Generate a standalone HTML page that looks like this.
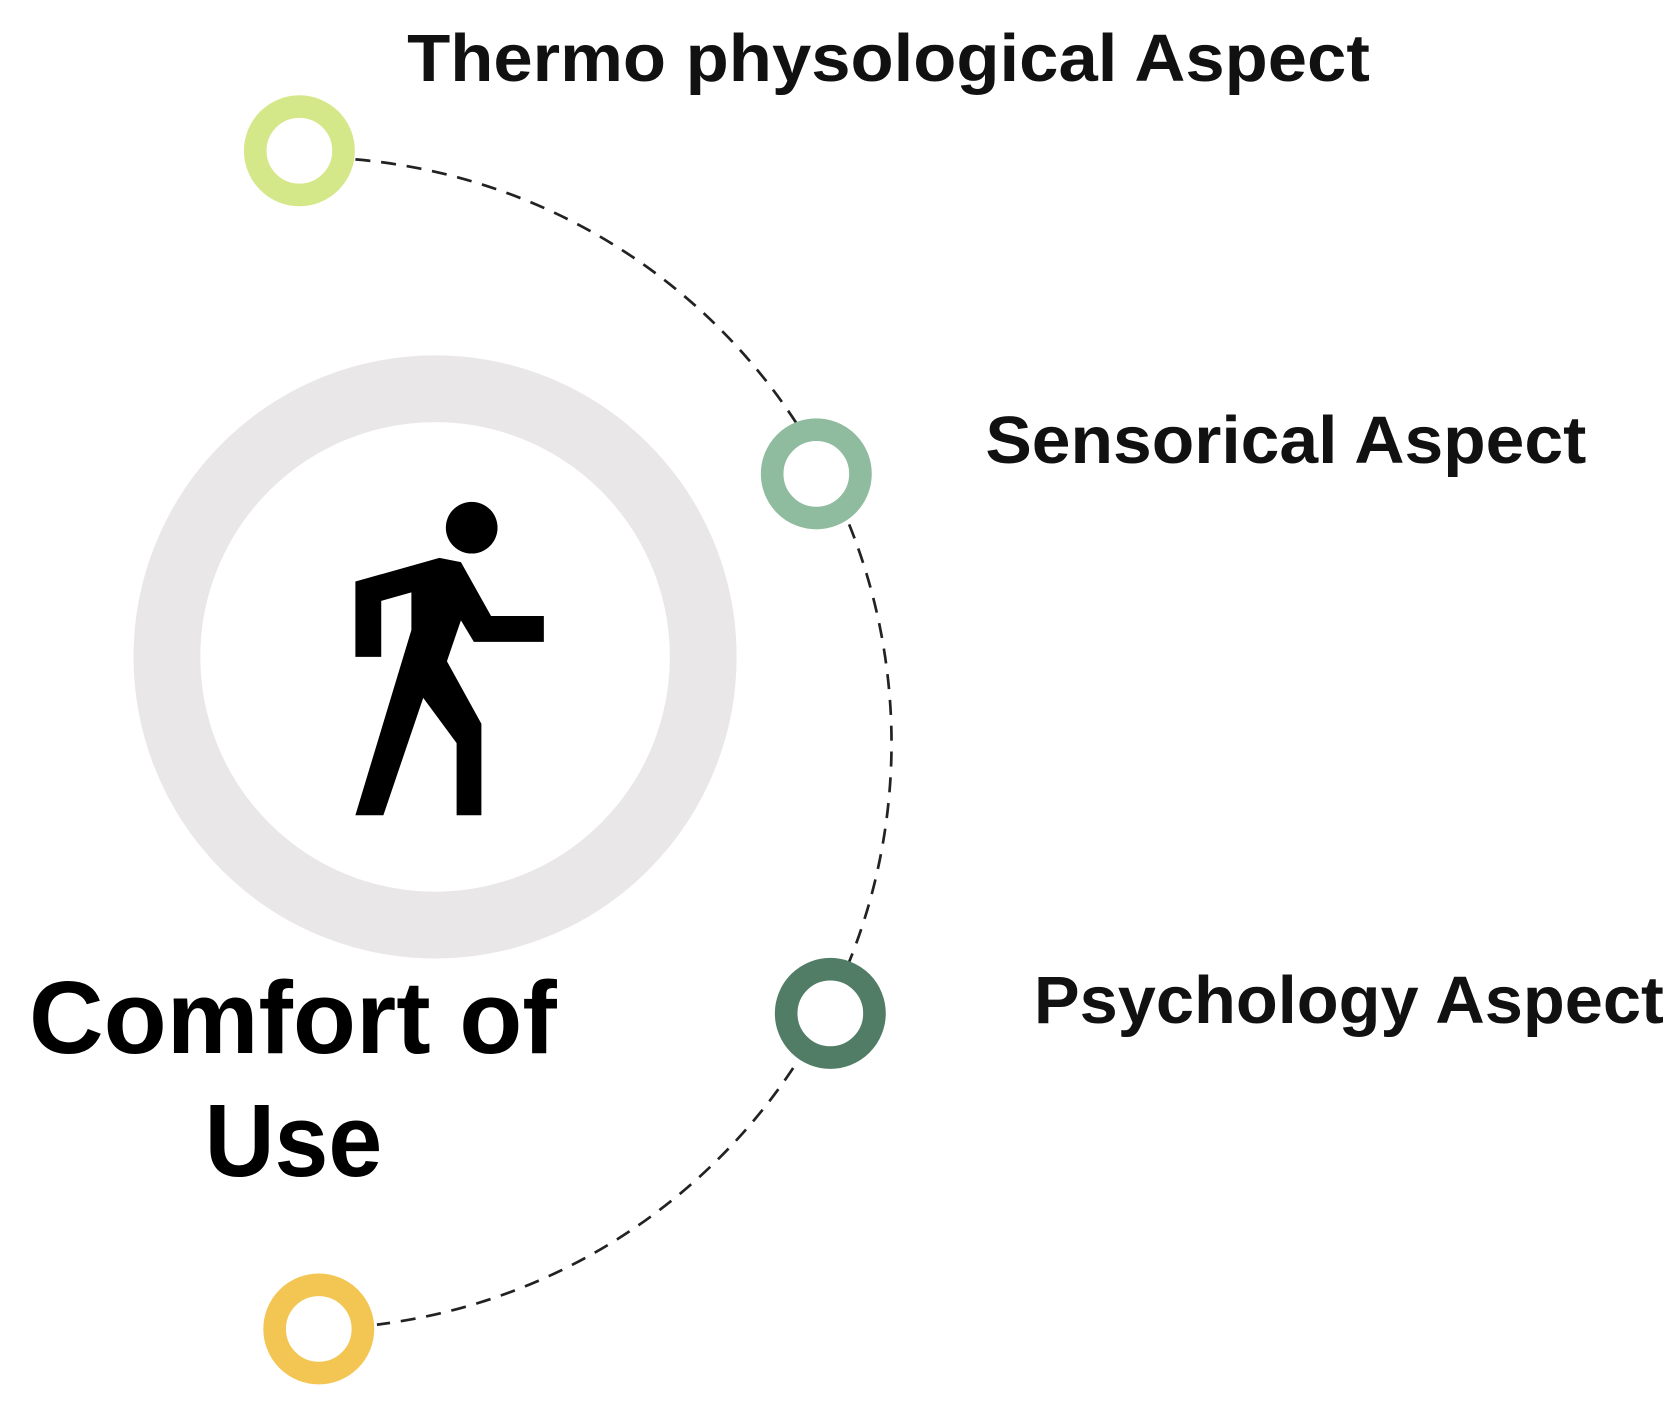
<!DOCTYPE html>
<html><head><meta charset="utf-8"><style>html,body{margin:0;padding:0;background:#fff;width:1680px;height:1418px;overflow:hidden}svg{display:block}</style></head>
<body>
<svg width="1680" height="1418" viewBox="0 0 1560 1316.7" preserveAspectRatio="none" xmlns="http://www.w3.org/2000/svg">
<circle cx="404" cy="610" r="249" fill="none" stroke="#e9e7e8" stroke-width="62"/>
<path d="M 330 148 A 544 544 0 0 1 350 1230" fill="none" stroke="#222" stroke-width="2.5" stroke-dasharray="14 10"/>
<circle cx="278" cy="140" r="41" fill="#fff" stroke="#d4e88a" stroke-width="21"/>
<circle cx="758" cy="440" r="41" fill="#fff" stroke="#8fbb9f" stroke-width="21"/>
<circle cx="771" cy="941" r="41" fill="#fff" stroke="#517c65" stroke-width="21"/>
<circle cx="296" cy="1234" r="41" fill="#fff" stroke="#f3c552" stroke-width="21"/>
<circle cx="438" cy="490" r="24" fill="#000"/>
<polygon fill="#000" points="330,540 408,518 428,522 456,572 505,572 505,596 440,596 428,576 415,614 447,672 447,757 424,757 424,690 393,648 356,757 330,757 382,585 382,550 354,558 354,610 330,610"/>
<g font-family="'Liberation Sans', sans-serif" font-weight="bold" fill="#111">
<text x="378" y="75" font-size="62" textLength="894" lengthAdjust="spacingAndGlyphs">Thermo physological Aspect</text>
<text x="915" y="430" font-size="62" textLength="558" lengthAdjust="spacingAndGlyphs">Sensorical Aspect</text>
<text x="960" y="950" font-size="62" textLength="585" lengthAdjust="spacingAndGlyphs">Psychology Aspect</text>
<text x="27" y="978" font-size="96" textLength="490" lengthAdjust="spacingAndGlyphs" fill="#000">Comfort of</text>
<text x="190" y="1092" font-size="96" textLength="165" lengthAdjust="spacingAndGlyphs" fill="#000">Use</text>
</g>
</svg>
</body></html>
